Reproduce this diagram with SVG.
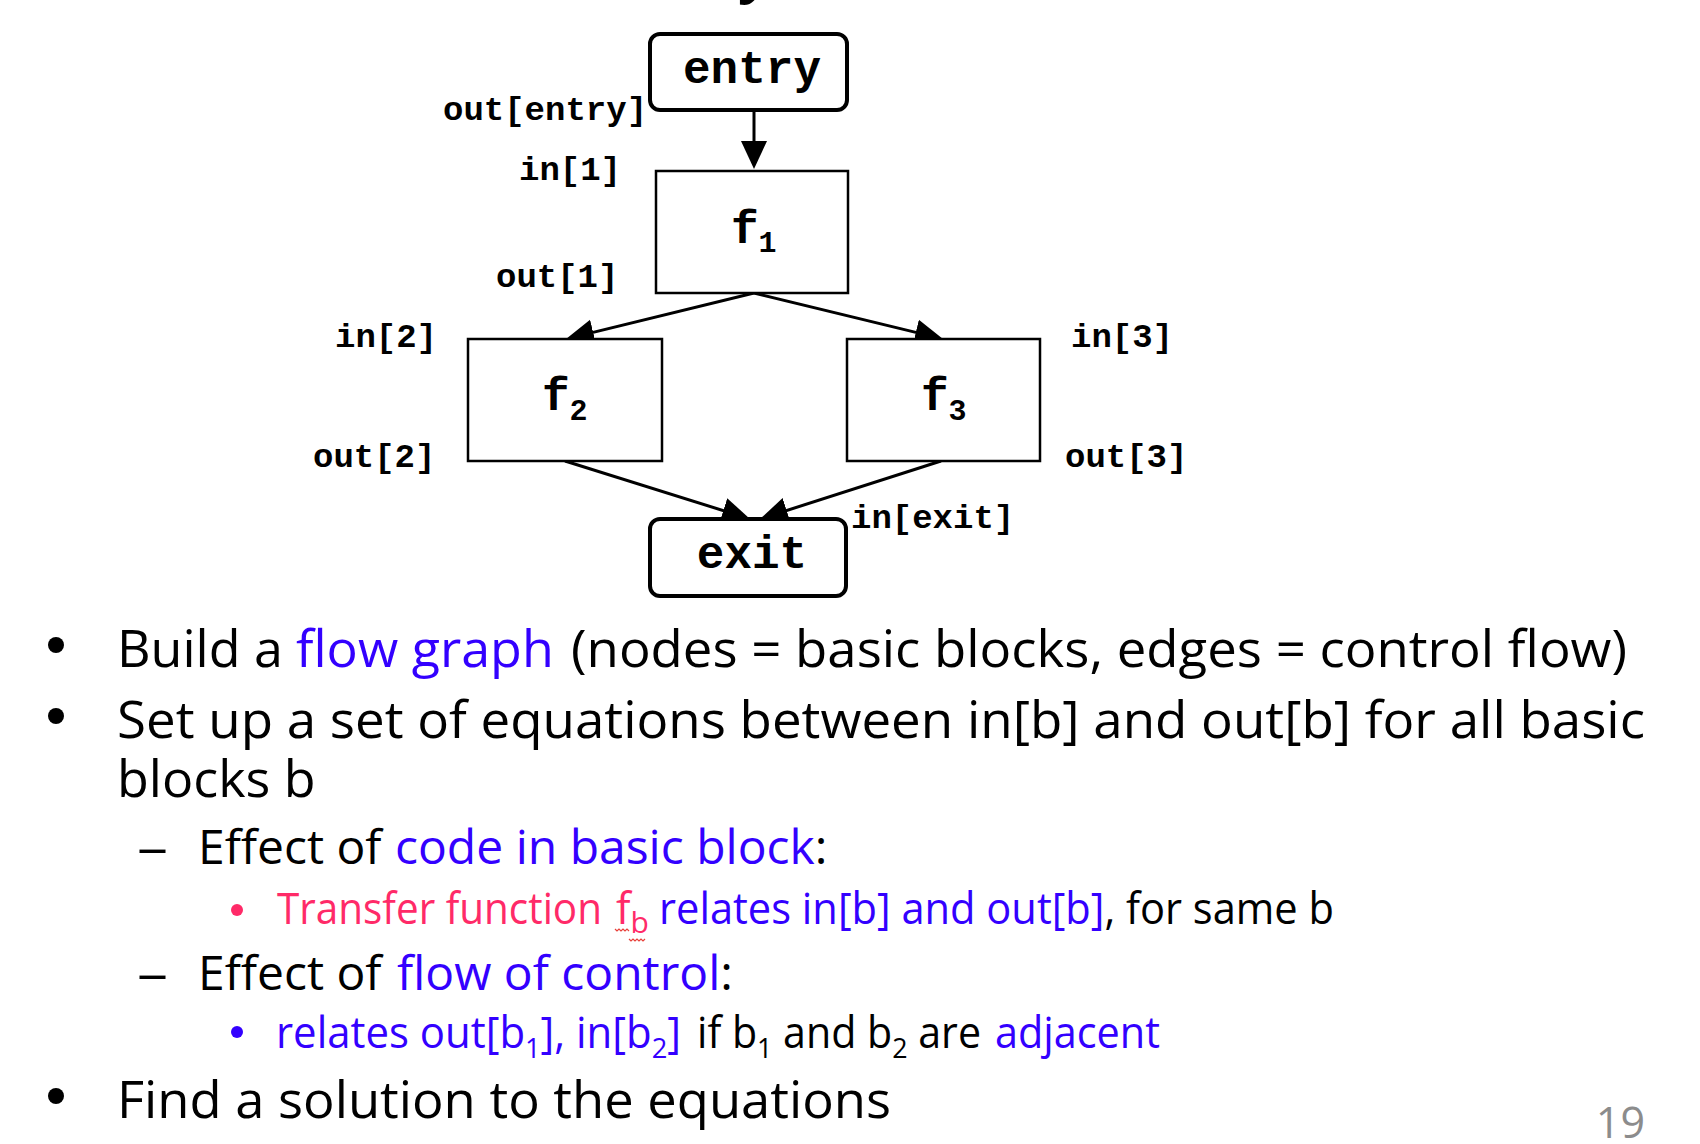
<svg xmlns="http://www.w3.org/2000/svg" width="1700" height="1144" viewBox="0 0 1700 1144">
  <style>
    .mono { font-family: "Liberation Mono", "Courier New", monospace; font-weight: bold; fill: #000; }
    .lbl { font-size: 34px; }
    .big { font-size: 46px; }
    .sub { font-size: 30px; }
    .body { font-family: "Open Sans", "Noto Sans", sans-serif; fill: #000; }
    .l1 { font-size: 52px; }
    .l2 { font-size: 48px; }
    .l3 { font-size: 43px; }
    .blue { fill: #3300FF; }
    .pink { fill: #FF2A68; }
    .box { fill: #fff; stroke: #000; stroke-width: 2.5; }
    .term { fill: #fff; stroke: #000; stroke-width: 4; }
    .edge { stroke: #000; stroke-width: 3; fill: none; marker-end: url(#head); }
  </style>
  <defs>
    <marker id="head" markerUnits="userSpaceOnUse" viewBox="0 0 28 28" refX="18" refY="14" markerWidth="28" markerHeight="28" orient="auto">
      <path d="M0,1 L28,14 L0,27 z" fill="#000"/>
    </marker>
  </defs>

  <rect width="1700" height="1144" fill="#fff"/>

  <!-- tail of the heading letter above the page edge -->
  <text x="738" y="-8" font-family="Open Sans, sans-serif" font-weight="bold" font-size="56">y</text>

  <!-- connectors -->
  <g id="edges">
    <line class="edge" x1="754" y1="110" x2="754" y2="159"/>
    <line class="edge" x1="754" y1="293" x2="575.7" y2="336.6"/>
    <line class="edge" x1="754" y1="293" x2="933.3" y2="336.6"/>
    <line class="edge" x1="565" y1="461" x2="740.5" y2="516"/>
    <line class="edge" x1="941" y1="461" x2="769.5" y2="516"/>
  </g>

  <!-- nodes -->
  <g id="entry">
    <rect class="term" x="650" y="34" width="197" height="76" rx="10"/>
    <text class="mono big" x="752" y="83" text-anchor="middle">entry</text>
  </g>
  <g id="b1">
    <rect class="box" x="656" y="171" width="192" height="122"/>
    <text class="mono big" x="731" y="243">f<tspan class="sub" dy="9">1</tspan></text>
  </g>
  <g id="b2">
    <rect class="box" x="468" y="339" width="194" height="122"/>
    <text class="mono big" x="542" y="410">f<tspan class="sub" dy="10">2</tspan></text>
  </g>
  <g id="b3">
    <rect class="box" x="847" y="339" width="193" height="122"/>
    <text class="mono big" x="921" y="410">f<tspan class="sub" dy="10">3</tspan></text>
  </g>
  <g id="exit">
    <rect class="term" x="650" y="519" width="196" height="77" rx="10"/>
    <text class="mono big" x="752" y="568" text-anchor="middle">exit</text>
  </g>

  <!-- in/out labels -->
  <g id="labels" class="mono lbl">
    <text x="443" y="120">out[entry]</text>
    <text x="519" y="180">in[1]</text>
    <text x="496" y="287">out[1]</text>
    <text x="335" y="347">in[2]</text>
    <text x="313" y="467">out[2]</text>
    <text x="1071" y="347">in[3]</text>
    <text x="1065" y="467">out[3]</text>
    <text x="851" y="528">in[exit]</text>
  </g>

  <!-- bullet text -->
  <g id="bullets" class="body">
    <circle cx="56" cy="645" r="8"/>
    <text class="body l1" x="117" y="667">Build a </text>
    <text class="body l1 blue" x="296" y="667">flow graph</text>
    <text class="body l1" x="571" y="667" textLength="1056" lengthAdjust="spacingAndGlyphs">(nodes = basic blocks, edges = control flow)</text>

    <circle cx="56" cy="716" r="8"/>
    <text class="body l1" x="117" y="738" textLength="1528" lengthAdjust="spacingAndGlyphs">Set up a set of equations between in[b] and out[b] for all basic</text>
    <text class="body l1" x="117" y="797">blocks b</text>

    <text class="body l2" x="137" y="864" textLength="31" lengthAdjust="spacingAndGlyphs">–</text>
    <text class="body l2" x="198" y="864">Effect of </text>
    <text class="body l2 blue" x="395" y="864">code in basic block<tspan fill="#000">:</tspan></text>

    <circle class="pink" cx="237" cy="910" r="6"/>
    <text class="body l3 pink" x="277" y="924" textLength="325" lengthAdjust="spacingAndGlyphs">Transfer function</text>
    <text class="body l3 pink" x="616" y="924">f<tspan font-size="30" dy="9">b</tspan></text>
    <path d="M615,929 l2,2 l2,-2 l2,2 l2,-2 l2,2 l2,-2 l2,2 M629,939 l2,2 l2,-2 l2,2 l2,-2 l2,2 l2,-2 l2,2 l2,-2" stroke="#E8403A" stroke-width="1.2" fill="none"/>
    <text class="body l3 blue" x="659" y="924" textLength="675" lengthAdjust="spacingAndGlyphs">relates in[b] and out[b]<tspan fill="#000">, for same b</tspan></text>

    <text class="body l2" x="137" y="990" textLength="31" lengthAdjust="spacingAndGlyphs">–</text>
    <text class="body l2" x="198" y="990">Effect of </text>
    <text class="body l2 blue" x="397" y="990">flow of control<tspan fill="#000">:</tspan></text>

    <circle class="blue" cx="237" cy="1032" r="6"/>
    <text class="body l3 blue" x="276" y="1048" textLength="405" lengthAdjust="spacingAndGlyphs">relates out[b<tspan font-size="28" dy="10">1</tspan><tspan dy="-10">], in[b</tspan><tspan font-size="28" dy="10">2</tspan><tspan dy="-10">]</tspan></text>
    <text class="body l3" x="697" y="1048" textLength="284" lengthAdjust="spacingAndGlyphs">if b<tspan font-size="28" dy="10">1</tspan><tspan dy="-10"> and b</tspan><tspan font-size="28" dy="10">2</tspan><tspan dy="-10"> are</tspan></text>
    <text class="body l3 blue" x="995" y="1048" textLength="165" lengthAdjust="spacingAndGlyphs">adjacent</text>

    <circle cx="56" cy="1096" r="8"/>
    <text class="body l1" x="117" y="1118" textLength="774" lengthAdjust="spacingAndGlyphs">Find a solution to the equations</text>
  </g>

  <text x="1645" y="1138" text-anchor="end" font-family="Open Sans, sans-serif" font-size="43" fill="#8C8C8C">19</text>
</svg>
